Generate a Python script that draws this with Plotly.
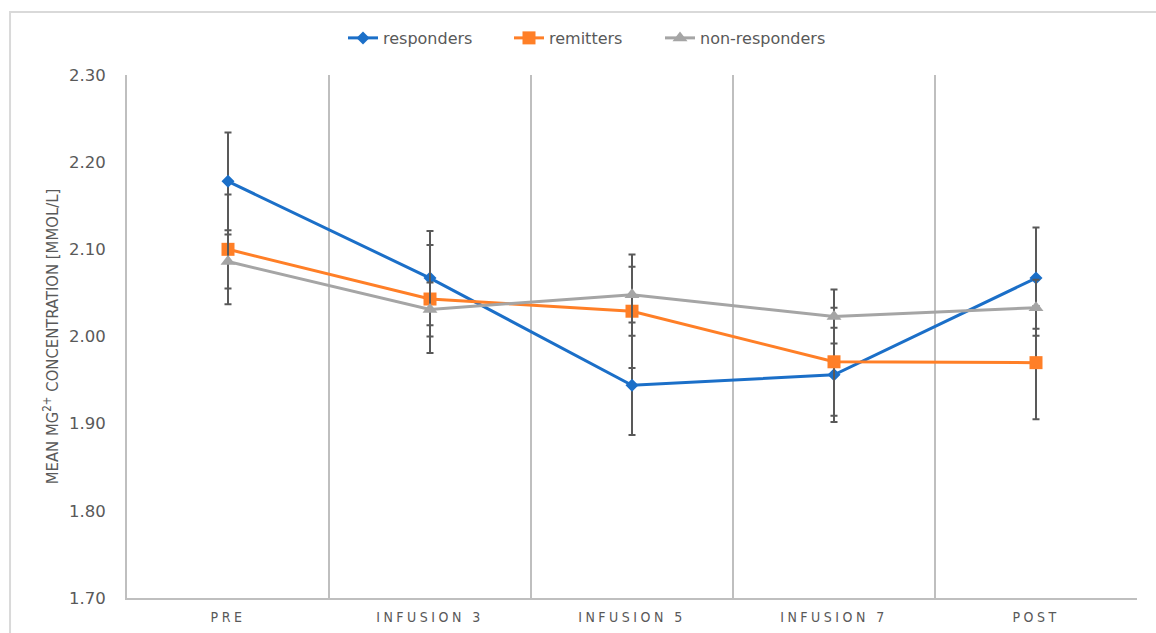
import plotly.graph_objects as go

# Time points and mean serum Mg2+ per group (mmol/L) with error bar half-widths
timepoints = ["PRE", "INFUSION 3", "INFUSION 5", "INFUSION 7", "POST"]

responders = [2.178, 2.067, 1.944, 1.956, 2.067]
responders_err = [0.056, 0.054, 0.057, 0.054, 0.058]

remitters = [2.100, 2.043, 2.029, 1.971, 1.970]
remitters_err = [0.063, 0.062, 0.065, 0.062, 0.065]

non_responders = [2.086, 2.031, 2.048, 2.023, 2.033]
non_responders_err = [0.031, 0.031, 0.032, 0.031, 0.032]

y_ticks = [1.70, 1.80, 1.90, 2.00, 2.10, 2.20, 2.30]

x_pos = list(range(len(timepoints)))
err_color = "#595959"
text_color = "#595959"

# one legend box per series so each entry sits at its own spot
series = [
    ("responders", responders, responders_err, "#1B6FC8",
     dict(symbol="diamond", size=10), "legend", 343),
    ("remitters", remitters, remitters_err, "#FF7F27",
     dict(symbol="square", size=13), "legend2", 509),
    ("non-responders", non_responders, non_responders_err, "#A5A5A5",
     dict(symbol="triangle-up", size=13), "legend3", 660),
]

fig = go.Figure()
legend_layout = {}
for name, vals, errs, color, mk, leg, leg_x in series:
    fig.add_trace(go.Scatter(
        x=x_pos, y=vals, name=name, mode="lines+markers",
        line=dict(color=color, width=3),
        marker=dict(color=color, **mk),
        error_y=dict(type="data", array=errs, visible=True,
                     color=err_color, thickness=2, width=3.5),
        legend=leg, showlegend=True,
    ))
    legend_layout[leg] = dict(
        orientation="h", xref="container", yref="container",
        x=leg_x / 1156, y=0.94, xanchor="left", yanchor="middle",
        font=dict(size=16, color=text_color, family="DejaVu Sans, sans-serif"),
        itemwidth=30, bgcolor="rgba(0,0,0,0)",
    )

fig.update_layout(
    width=1156, height=633,
    margin=dict(l=127, r=19, t=75, b=35),
    paper_bgcolor="white", plot_bgcolor="white",
    font=dict(family="DejaVu Sans, sans-serif", color=text_color),
    showlegend=True,
    shapes=[
        dict(type="rect", xref="paper", yref="paper",
             x0=-0.1158, x1=1.2, y0=-0.3, y1=1.1205,
             line=dict(color="#D9D9D9", width=2), layer="below"),
    ],
    **legend_layout,
)

fig.update_xaxes(
    range=[-0.5, 4.5], automargin=False,
    tickmode="array", tickvals=x_pos, ticktext=timepoints,
    tickfont=dict(size=14, color=text_color,
                  family="DejaVu Sans Condensed, Liberation Sans Narrow, sans-serif"),
    ticks="", showgrid=False, zeroline=False, ticklabelstandoff=5,
    showline=True, linecolor="#BFBFBF", linewidth=2,
    minor=dict(tickmode="linear", tick0=0.5, dtick=1, showgrid=True,
               gridcolor="#BFBFBF", gridwidth=2, ticks=""),
)

fig.update_yaxes(
    range=[1.70, 2.30], automargin=False,
    tickmode="array", tickvals=y_ticks,
    tickformat=".2f",
    tickfont=dict(size=16.5, color=text_color, family="DejaVu Sans, sans-serif"),
    ticks="", showgrid=False, zeroline=False, ticklabelstandoff=16,
    showline=True, linecolor="#BFBFBF", linewidth=2,
    title=dict(
        text="MEAN MG<sup>2+</sup> CONCENTRATION [MMOL/L]",
        font=dict(size=16.5, color=text_color,
                  family="Liberation Sans Narrow, DejaVu Sans Condensed, sans-serif"),
        standoff=6,
    ),
)

# spaced-out capitals for the time point labels
letter_spacing_js = (
    "document.querySelectorAll('.xtick text').forEach(function(t){"
    "t.style.letterSpacing='3.5px';});"
)

fig.write_html("out.html", post_script=letter_spacing_js)
